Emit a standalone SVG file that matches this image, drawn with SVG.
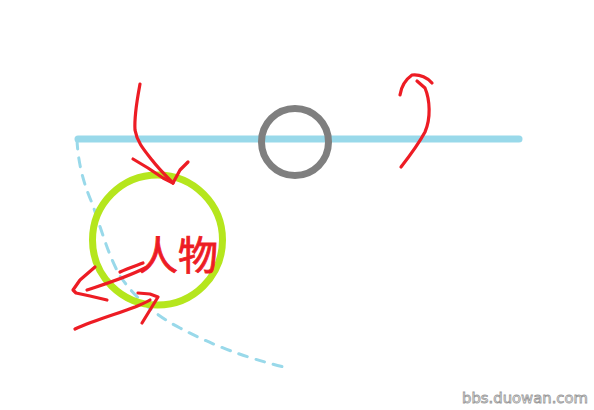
<svg xmlns="http://www.w3.org/2000/svg" width="594" height="410" viewBox="0 0 594 410">
<style>
.red{fill:none;stroke:#ed1c24;stroke-width:3.2;stroke-linecap:round;stroke-linejoin:round}
</style>
<rect width="594" height="410" fill="#ffffff"/>
<g id="track">
<line x1="78" y1="139" x2="519" y2="139" stroke="#99d9ea" stroke-width="7" stroke-linecap="round"/>
</g>
<g id="dashed-path">
<path d="M77,140 C78,160 82,180 92,203 C100,225 108,255 120,276 C135,298 155,315 180,328 C210,344 245,358 288,368" fill="none" stroke="#99d9ea" stroke-width="3" stroke-dasharray="9,9" stroke-linecap="round"/>
</g>
<g id="gray-circle">
<circle cx="295" cy="142" r="33.5" fill="none" stroke="#7f7f7f" stroke-width="7"/>
</g>
<g id="person">
<circle cx="157.5" cy="240" r="65" fill="none" stroke="#b5e61d" stroke-width="7"/>
<text x="138" y="270" font-family="'Noto Sans CJK SC', sans-serif" font-size="40" fill="#ed1c24" stroke="#ed1c24" stroke-width="0.8">人物</text>
</g>
<g id="connectors">
<path class="red" d="M140,84 C138,95 134,115 135,130 C137,142 144,150 152,160 C158,168 166,176 173,183"/>
<path class="red" d="M133,159 L148,168 L163,178 L173,183 L180,170 L188,162"/>
<path class="red" d="M401,167 C408,158 418,145 425,132 C431,118 430,100 425,88 L417,81"/>
<path class="red" d="M400,95 C401,88 405,80 412,75 C420,74 428,78 432,83"/>
<path class="red" d="M87,290 C105,284 125,278 145,268"/>
<path class="red" d="M120,272 C128,268 138,265 143,263"/>
<path class="red" d="M95,267 L80,280 L73,290 L76,293 L90,296 L107,300"/>
<path class="red" d="M75,329 C95,320 120,313 135,307 C142,304 147,302 150,300"/>
<path class="red" d="M138,293 L150,294 L158,297 L150,310 L142,323"/>
</g>
<text x="462" y="403" font-family="'DejaVu Sans', sans-serif" font-size="14" fill="#ffffff" stroke="#9a9a9a" stroke-width="0.8" textLength="126" lengthAdjust="spacingAndGlyphs">bbs.duowan.com</text>
</svg>
